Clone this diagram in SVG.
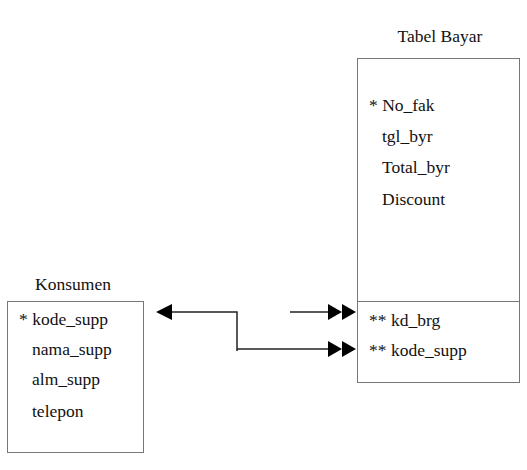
<svg xmlns="http://www.w3.org/2000/svg" width="527" height="470" viewBox="0 0 527 470">
<style>
text{font-size:17.5px;fill:#111}
.box{fill:#fff;stroke:#777;stroke-width:1}
.ln{fill:none;stroke:#222;stroke-width:1.5}
.ah{fill:#000}
</style>
<rect width="527" height="470" fill="#fff"/>
<g font-family="'Liberation Serif', 'Times New Roman', serif">
<g id="tabel-bayar">
<text x="440" y="42" text-anchor="middle">Tabel Bayar</text>
<rect class="box" x="357.5" y="58.5" width="162" height="324"/>
<line class="box" x1="357.5" y1="301.5" x2="519.5" y2="301.5"/>
<text x="369" y="111">* No_fak</text>
<text x="382" y="142">tgl_byr</text>
<text x="382" y="173">Total_byr</text>
<text x="382" y="205">Discount</text>
<text x="369" y="326">** kd_brg</text>
<text x="369" y="356">** kode_supp</text>
</g>
<g id="konsumen">
<text x="73" y="290" text-anchor="middle">Konsumen</text>
<rect class="box" x="7.5" y="301.5" width="136" height="151"/>
<text x="19" y="325">* kode_supp</text>
<text x="32" y="355">nama_supp</text>
<text x="32" y="385">alm_supp</text>
<text x="32" y="417">telepon</text>
</g>
</g>
<g id="connectors">
<polyline class="ln" points="168,312 237,312 237,351"/>
<line class="ln" x1="237" y1="349" x2="330" y2="349"/>
<line class="ln" x1="290" y1="312" x2="330" y2="312"/>
<polygon class="ah" points="156,312 172,304 172,320"/>
<polygon class="ah" points="342,312 328,304 328,320"/>
<polygon class="ah" points="356,312 342,304 342,320"/>
<polygon class="ah" points="342,349 328,341 328,357"/>
<polygon class="ah" points="356,349 342,341 342,357"/>
</g>
</svg>
